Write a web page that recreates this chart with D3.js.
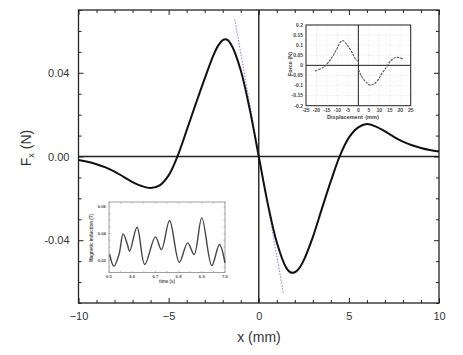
<!DOCTYPE html>
<html>
<head>
<meta charset="utf-8">
<script src="https://cdn.jsdelivr.net/npm/d3@7"></script>
<style>
  html, body { margin: 0; padding: 0; background: #fff; }
  svg { display: block; }
  text { font-family: "Liberation Sans", Arial, sans-serif; }
</style>
</head>
<body>
<svg id="chart" width="463" height="355"></svg>
<script>
// ---------- Main chart data ----------
const xPos = [-10,-9.5,-9,-8.5,-8,-7.5,-7,-6.5,-6,-5.5,-5,-4.5,-4,-3.5,-3,-2.5,-2.25,-2,-1.75,-1.5,-1,-0.5,0,
              0.5,1,1.5,1.75,2,2.25,2.5,3,3.5,4,4.5,5,5.5,6,6.5,7,7.5,8,8.5,9,9.5,10];
const forceX = [-0.0017,-0.0025,-0.0037,-0.0052,-0.0072,-0.0097,-0.0122,-0.0141,-0.0151,-0.0138,-0.0090,0.0003,0.0125,0.0250,0.0372,0.0487,0.0530,0.0556,0.0558,0.0530,0.0412,0.0225,0,
                -0.0225,-0.0410,-0.0528,-0.0553,-0.0553,-0.0533,-0.0495,-0.0385,-0.0250,-0.0118,0.0003,0.0090,0.0138,0.0155,0.0143,0.0120,0.0094,0.0071,0.0054,0.0041,0.0031,0.0024];
const slopeX = [-1.33, 1.36];
const slopeF = [0.0655, -0.0650];
const xMajorTicks = [-10, -5, 0, 5, 10];
const yMajorTicks = [-0.04, 0.00, 0.04];
const yTickLabels = ["-0.04", "0.00", "0.04"];

// ---------- Inset 1 (force vs displacement) ----------
const dispL = [-20.7,-16.7,-13.5,-10.4,-8.4,-7.2,-5.3,-3.2,-1.6,-0.4];
const forceL = [-0.028,-0.010,0.026,0.079,0.117,0.122,0.100,0.068,0.035,0.022];
const dispR = [0.1,1.6,4.0,5.6,7.2,9.1,11.1,13.5,15.1,17.5,19.9,21.5];
const forceR = [-0.022,-0.056,-0.086,-0.098,-0.093,-0.076,-0.043,-0.007,0.018,0.038,0.038,0.030];
const in1XTicks = [-25,-20,-15,-10,-5,0,5,10,15,20,25];
const in1YTicks = [0.2,0.15,0.1,0.05,0,-0.05,-0.1,-0.15,-0.2];
const in1YLabels = ["0.2","0.15","0.1","0.05","0","-0.05","-0.1","-0.15","-0.2"];

// ---------- Inset 2 (magnetic induction vs time) ----------
const timeS = [6.503,6.521,6.543,6.561,6.579,6.589,6.621,6.654,6.700,6.726,6.761,6.803,6.839,6.867,6.900,6.943,6.976,7.000];
const induction = [0.0243,0.0155,0.0243,0.0398,0.0320,0.0268,0.0448,0.0168,0.0375,0.0280,0.0498,0.0185,0.0330,0.0243,0.0518,0.0160,0.0318,0.0180];
const in2XTicks = [6.5,6.6,6.7,6.8,6.9,7.0];
const in2YTicks = [0.02,0.04,0.06];

const svg = d3.select("#chart");
svg.append("rect").attr("width",463).attr("height",355).attr("fill","#fff");

// ---------- Main plot ----------
const L = 78.5, R = 439, T = 10, B = 303;
const x = d3.scaleLinear().domain([-10,10]).range([L,R]);
const y = d3.scaleLinear().domain([-0.07,0.07]).range([B,T]);
const xMinor = d3.range(-10,10.01,1).filter(v => !xMajorTicks.includes(v));
const yMinor = d3.range(-7,7.01,1).map(v=>v/100).filter(v => !yMajorTicks.some(t=>Math.abs(t-v)<1e-9));

function styleAxis(g){
  g.select(".domain").remove();
  g.selectAll("line").attr("stroke","#222").attr("stroke-width",1);
  g.selectAll("text").attr("fill","#333").attr("font-size",11);
}
svg.append("g").attr("transform",`translate(0,${B})`)
  .call(d3.axisBottom(x).tickValues(xMajorTicks).tickSize(-5).tickPadding(9).tickFormat(d3.format("d")))
  .call(styleAxis);
svg.append("g").attr("transform",`translate(0,${B})`)
  .call(d3.axisBottom(x).tickValues(xMinor).tickSize(-3).tickFormat(""))
  .call(styleAxis);
svg.append("g").attr("transform",`translate(0,${T})`)
  .call(d3.axisTop(x).tickValues(xMajorTicks).tickSize(-5).tickFormat(""))
  .call(styleAxis);
svg.append("g").attr("transform",`translate(0,${T})`)
  .call(d3.axisTop(x).tickValues(xMinor).tickSize(-3).tickFormat(""))
  .call(styleAxis);
svg.append("g").attr("transform",`translate(${L},0)`)
  .call(d3.axisLeft(y).tickValues(yMajorTicks).tickSize(-5).tickPadding(9).tickFormat((d,i)=>yTickLabels[i]))
  .call(styleAxis);
svg.append("g").attr("transform",`translate(${L},0)`)
  .call(d3.axisLeft(y).tickValues(yMinor).tickSize(-3).tickFormat(""))
  .call(styleAxis);
svg.append("g").attr("transform",`translate(${R},0)`)
  .call(d3.axisRight(y).tickValues(yMajorTicks).tickSize(-5).tickFormat(""))
  .call(styleAxis);
svg.append("g").attr("transform",`translate(${R},0)`)
  .call(d3.axisRight(y).tickValues(yMinor).tickSize(-3).tickFormat(""))
  .call(styleAxis);

svg.append("rect").attr("x",L).attr("y",T).attr("width",R-L).attr("height",B-T)
  .attr("fill","none").attr("stroke","#222").attr("stroke-width",1.3);

svg.append("line").attr("x1",L).attr("x2",R).attr("y1",y(0)).attr("y2",y(0))
  .attr("stroke","#222").attr("stroke-width",1.4);
svg.append("line").attr("x1",x(0)).attr("x2",x(0)).attr("y1",T).attr("y2",B)
  .attr("stroke","#222").attr("stroke-width",1.4);

// ---------- Inset 1 ----------
const i1 = {L:306, R:410.7, T:25, B:105.7};
const xi1 = d3.scaleLinear().domain([-25,25]).range([i1.L,i1.R]);
const yi1 = d3.scaleLinear().domain([-0.2,0.2]).range([i1.B,i1.T]);
const g1 = svg.append("g");
g1.append("rect").attr("x",i1.L).attr("y",i1.T).attr("width",i1.R-i1.L).attr("height",i1.B-i1.T).attr("fill","#fff");
g1.selectAll("line.gx").data(in1XTicks).join("line")
  .attr("x1",d=>xi1(d)).attr("x2",d=>xi1(d)).attr("y1",i1.T).attr("y2",i1.B)
  .attr("stroke","#ccc").attr("stroke-width",0.5).attr("stroke-dasharray","1,1.5");
g1.selectAll("line.gy").data(in1YTicks).join("line")
  .attr("y1",d=>yi1(d)).attr("y2",d=>yi1(d)).attr("x1",i1.L).attr("x2",i1.R)
  .attr("stroke","#ccc").attr("stroke-width",0.5).attr("stroke-dasharray","1,1.5");
g1.append("line").attr("x1",i1.L).attr("x2",i1.R).attr("y1",yi1(0)).attr("y2",yi1(0)).attr("stroke","#222").attr("stroke-width",1);
g1.append("line").attr("x1",xi1(0)).attr("x2",xi1(0)).attr("y1",i1.T).attr("y2",i1.B).attr("stroke","#222").attr("stroke-width",1);
g1.append("rect").attr("x",i1.L).attr("y",i1.T).attr("width",i1.R-i1.L).attr("height",i1.B-i1.T)
  .attr("fill","none").attr("stroke","#222").attr("stroke-width",1);
const line1 = d3.line().x(d=>xi1(d[0])).y(d=>yi1(d[1])).curve(d3.curveCatmullRom);
g1.append("path").datum(dispL.map((d,i)=>[d,forceL[i]])).attr("d",line1)
  .attr("fill","none").attr("stroke","#555").attr("stroke-width",1.1).attr("stroke-dasharray","2.5,1");
g1.append("path").datum(dispR.map((d,i)=>[d,forceR[i]])).attr("d",line1)
  .attr("fill","none").attr("stroke","#555").attr("stroke-width",1.1).attr("stroke-dasharray","2.5,1");
g1.selectAll("text.tx").data(in1XTicks).join("text")
  .attr("x",d=>xi1(d)).attr("y",i1.B+6).attr("text-anchor","middle")
  .attr("font-size",5).attr("font-weight","bold").attr("fill","#444").text(d=>d);
g1.selectAll("text.ty").data(in1YTicks).join("text")
  .attr("x",i1.L-3).attr("y",d=>yi1(d)+1.8).attr("text-anchor","end")
  .attr("font-size",5).attr("font-weight","bold").attr("fill","#444").text((d,i)=>in1YLabels[i]);
g1.append("text").attr("x",345).attr("y",119).attr("text-anchor","middle")
  .attr("font-size",5.5).attr("font-weight","bold").attr("fill","#444").text("Displacement");
g1.append("text").attr("x",372).attr("y",119).attr("text-anchor","middle")
  .attr("font-size",5.5).attr("font-weight","bold").attr("fill","#444").text("(mm)");
g1.append("text").attr("transform","translate(292,64) rotate(-90)").attr("text-anchor","middle")
  .attr("font-size",5.5).attr("font-weight","bold").attr("fill","#444").text("Force (N)");

// ---------- Inset 2 ----------
const i2 = {L:109, R:225, T:202, B:272.5};
const xi2 = d3.scaleLinear().domain([6.5,7.0]).range([i2.L,i2.R]);
const yi2 = d3.scaleLinear().domain([0.0108,0.0637]).range([i2.B,i2.T]);
const g2 = svg.append("g");
g2.append("rect").attr("x",i2.L).attr("y",i2.T).attr("width",i2.R-i2.L).attr("height",i2.B-i2.T)
  .attr("fill","#fff").attr("stroke","#888").attr("stroke-width",0.8);
const i2xt = d3.range(6.5,7.001,0.05);
const i2yt = d3.range(0.015,0.0636,0.005);
g2.selectAll("line.bx").data(i2xt).join("line")
  .attr("x1",d=>xi2(d)).attr("x2",d=>xi2(d)).attr("y1",i2.B).attr("y2",i2.B-1.5).attr("stroke","#888").attr("stroke-width",0.6);
g2.selectAll("line.tx").data(i2xt).join("line")
  .attr("x1",d=>xi2(d)).attr("x2",d=>xi2(d)).attr("y1",i2.T).attr("y2",i2.T+1.5).attr("stroke","#888").attr("stroke-width",0.6);
g2.selectAll("line.ly").data(i2yt).join("line")
  .attr("y1",d=>yi2(d)).attr("y2",d=>yi2(d)).attr("x1",i2.L).attr("x2",i2.L+1.5).attr("stroke","#888").attr("stroke-width",0.6);
g2.selectAll("line.ry").data(i2yt).join("line")
  .attr("y1",d=>yi2(d)).attr("y2",d=>yi2(d)).attr("x1",i2.R).attr("x2",i2.R-1.5).attr("stroke","#888").attr("stroke-width",0.6);
const line2 = d3.line().x(d=>xi2(d[0])).y(d=>yi2(d[1])).curve(d3.curveCatmullRom.alpha(0.5));
g2.append("path").datum(timeS.map((d,i)=>[d,induction[i]])).attr("d",line2)
  .attr("fill","none").attr("stroke","#444").attr("stroke-width",1.4);
g2.selectAll("text.tx2").data(in2XTicks).join("text")
  .attr("x",d=>xi2(d)).attr("y",i2.B+5.5).attr("text-anchor","middle")
  .attr("font-size",4.3).attr("font-weight","bold").attr("fill","#555").text(d=>d.toFixed(1));
g2.selectAll("text.ty2").data(in2YTicks).join("text")
  .attr("x",i2.L-3).attr("y",d=>yi2(d)+1.5).attr("text-anchor","end")
  .attr("font-size",4.3).attr("font-weight","bold").attr("fill","#555").text(d=>d.toFixed(2));
g2.append("text").attr("x",167).attr("y",283).attr("text-anchor","middle")
  .attr("font-size",4.5).attr("font-weight","bold").attr("fill","#555").text("time (s)");
g2.append("text").attr("transform","translate(93,238) rotate(-90)").attr("text-anchor","middle")
  .attr("font-size",4.5).attr("font-weight","bold").attr("fill","#555").text("Magnetic induction (T)");

// ---------- Main curves ----------
svg.append("path").datum(slopeX.map((d,i)=>[d,slopeF[i]]))
  .attr("d", d3.line().x(d=>x(d[0])).y(d=>y(d[1])))
  .attr("fill","none").attr("stroke","#7b7bf0").attr("stroke-width",1).attr("stroke-dasharray","1.5,1.5");
svg.append("path").datum(xPos.map((d,i)=>[d,forceX[i]]))
  .attr("d", d3.line().x(d=>x(d[0])).y(d=>y(d[1])).curve(d3.curveCatmullRom.alpha(0.5)))
  .attr("fill","none").attr("stroke","#111").attr("stroke-width",2);

// ---------- Axis titles ----------
svg.append("text").attr("x",259).attr("y",342).attr("text-anchor","middle")
  .attr("font-size",14).attr("fill","#333").text("x (mm)");
const yt = svg.append("text").attr("transform","translate(31,148) rotate(-90)").attr("text-anchor","middle")
  .attr("font-size",14).attr("fill","#333");
yt.append("tspan").text("F");
yt.append("tspan").attr("font-size",9).attr("dy",3).text("x");
yt.append("tspan").attr("dy",-3).text(" (N)");
</script>
</body>
</html>
